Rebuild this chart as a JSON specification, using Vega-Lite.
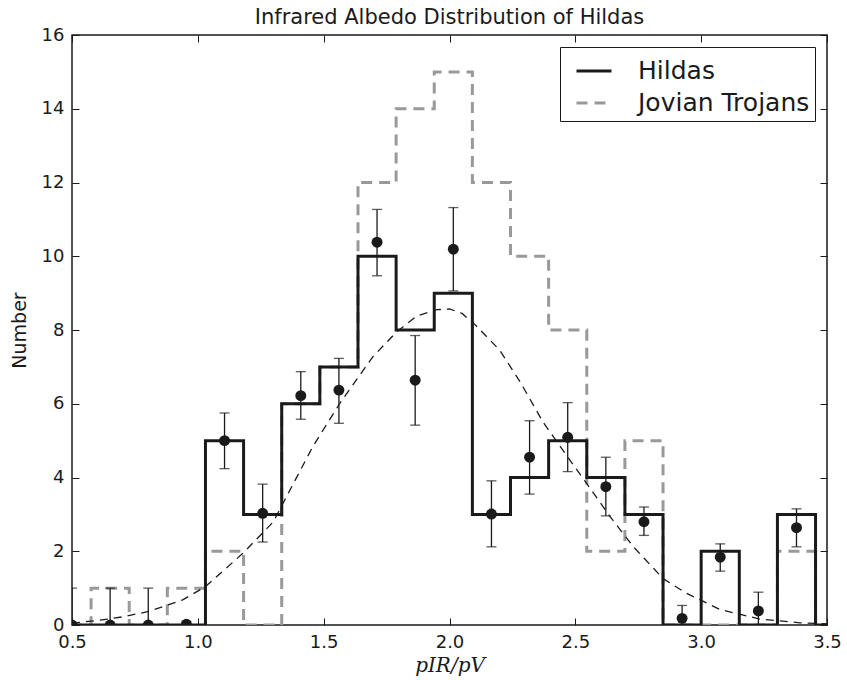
{
  "$schema": "https://vega.github.io/schema/vega-lite/v6.json",
  "width": 755,
  "height": 590,
  "autosize": {"type": "none"},
  "padding": {"left": 72, "top": 35, "right": 20, "bottom": 55},
  "background": "white",
  "title": {"text": "Infrared Albedo Distribution of Hildas", "font": "DejaVu Sans", "fontSize": 21, "fontWeight": "normal", "color": "#1a1a1a", "offset": 8, "dy": 10, "anchor": "middle"},
  "config": {
    "view": {"stroke": "#1a1a1a", "strokeWidth": 1.5},
    "axis": {"grid": false, "domain": false, "tickColor": "#1a1a1a", "tickWidth": 1, "labelFont": "DejaVu Sans", "labelFontSize": 18, "labelColor": "#1a1a1a", "titleFont": "DejaVu Sans", "titleFontSize": 19, "titleFontWeight": "normal", "titleColor": "#1a1a1a"},
    "legend": {"orient": "top-right", "offset": 12, "strokeColor": "#1a1a1a", "fillColor": "white", "padding": 5, "cornerRadius": 0, "labelFont": "DejaVu Sans", "labelFontSize": 25, "labelColor": "#1a1a1a", "symbolType": "stroke", "symbolStrokeWidth": 3, "symbolSize": 1225, "symbolOffset": 10, "rowPadding": 0, "labelOffset": 25, "labelLimit": 400}
  },
  "datasets": {
    "steps": [
      {"series": "Jovian Trojans", "x": 0.4242, "n": 0},
      {"series": "Jovian Trojans", "x": 0.5758, "n": 1},
      {"series": "Jovian Trojans", "x": 0.7273, "n": 0},
      {"series": "Jovian Trojans", "x": 0.8788, "n": 1},
      {"series": "Jovian Trojans", "x": 1.0303, "n": 2},
      {"series": "Jovian Trojans", "x": 1.1818, "n": 0},
      {"series": "Jovian Trojans", "x": 1.3333, "n": 6},
      {"series": "Jovian Trojans", "x": 1.4848, "n": 7},
      {"series": "Jovian Trojans", "x": 1.6364, "n": 12},
      {"series": "Jovian Trojans", "x": 1.7879, "n": 14},
      {"series": "Jovian Trojans", "x": 1.9394, "n": 15},
      {"series": "Jovian Trojans", "x": 2.0909, "n": 12},
      {"series": "Jovian Trojans", "x": 2.2424, "n": 10},
      {"series": "Jovian Trojans", "x": 2.3939, "n": 8},
      {"series": "Jovian Trojans", "x": 2.5455, "n": 2},
      {"series": "Jovian Trojans", "x": 2.6970, "n": 5},
      {"series": "Jovian Trojans", "x": 2.8485, "n": 0},
      {"series": "Jovian Trojans", "x": 3.0000, "n": 0},
      {"series": "Jovian Trojans", "x": 3.1515, "n": 0},
      {"series": "Jovian Trojans", "x": 3.3030, "n": 2},
      {"series": "Jovian Trojans", "x": 3.4545, "n": 0},
      {"series": "Jovian Trojans", "x": 3.6, "n": 0},
      {"series": "Hildas", "x": 0.4242, "n": 0},
      {"series": "Hildas", "x": 1.0303, "n": 5},
      {"series": "Hildas", "x": 1.1818, "n": 3},
      {"series": "Hildas", "x": 1.3333, "n": 6},
      {"series": "Hildas", "x": 1.4848, "n": 7},
      {"series": "Hildas", "x": 1.6364, "n": 10},
      {"series": "Hildas", "x": 1.7879, "n": 8},
      {"series": "Hildas", "x": 1.9394, "n": 9},
      {"series": "Hildas", "x": 2.0909, "n": 3},
      {"series": "Hildas", "x": 2.2424, "n": 4},
      {"series": "Hildas", "x": 2.3939, "n": 5},
      {"series": "Hildas", "x": 2.5455, "n": 4},
      {"series": "Hildas", "x": 2.6970, "n": 3},
      {"series": "Hildas", "x": 2.8485, "n": 0},
      {"series": "Hildas", "x": 3.0000, "n": 2},
      {"series": "Hildas", "x": 3.1515, "n": 0},
      {"series": "Hildas", "x": 3.3030, "n": 3},
      {"series": "Hildas", "x": 3.4545, "n": 0},
      {"series": "Hildas", "x": 3.6, "n": 0}
    ],
    "points": [
      {"x": 0.5, "y": 0, "lo": 0, "hi": 1},
      {"x": 0.6515, "y": 0, "lo": 0, "hi": 1},
      {"x": 0.8030, "y": 0, "lo": 0, "hi": 1},
      {"x": 0.9545, "y": 0.02, "lo": 0, "hi": 0.1},
      {"x": 1.1061, "y": 5.0, "lo": 4.24, "hi": 5.75},
      {"x": 1.2576, "y": 3.03, "lo": 2.25, "hi": 3.82},
      {"x": 1.4091, "y": 6.22, "lo": 5.58, "hi": 6.87},
      {"x": 1.5606, "y": 6.37, "lo": 5.47, "hi": 7.23},
      {"x": 1.7121, "y": 10.38, "lo": 9.47, "hi": 11.27},
      {"x": 1.8636, "y": 6.64, "lo": 5.42, "hi": 7.85},
      {"x": 2.0152, "y": 10.19, "lo": 9.06, "hi": 11.32},
      {"x": 2.1667, "y": 3.01, "lo": 2.12, "hi": 3.91},
      {"x": 2.3182, "y": 4.55, "lo": 3.55, "hi": 5.54},
      {"x": 2.4697, "y": 5.09, "lo": 4.16, "hi": 6.03},
      {"x": 2.6212, "y": 3.75, "lo": 2.96, "hi": 4.55},
      {"x": 2.7727, "y": 2.80, "lo": 2.43, "hi": 3.2},
      {"x": 2.9242, "y": 0.18, "lo": 0, "hi": 0.53},
      {"x": 3.0758, "y": 1.84, "lo": 1.46, "hi": 2.2},
      {"x": 3.2273, "y": 0.38, "lo": 0, "hi": 0.89},
      {"x": 3.3788, "y": 2.64, "lo": 2.12, "hi": 3.15}
    ],
    "fit": [
      {"x": 0.5, "y": 0.05},
      {"x": 0.6, "y": 0.12},
      {"x": 0.7, "y": 0.22},
      {"x": 0.8, "y": 0.36},
      {"x": 0.94, "y": 0.68},
      {"x": 1.03, "y": 1.04},
      {"x": 1.18, "y": 1.95},
      {"x": 1.3, "y": 2.8},
      {"x": 1.457, "y": 4.84},
      {"x": 1.565, "y": 6.02},
      {"x": 1.696, "y": 7.28},
      {"x": 1.79, "y": 7.95},
      {"x": 1.87, "y": 8.38},
      {"x": 1.95, "y": 8.55},
      {"x": 2.0, "y": 8.57},
      {"x": 2.05, "y": 8.45},
      {"x": 2.108, "y": 8.1},
      {"x": 2.2, "y": 7.45},
      {"x": 2.28, "y": 6.6},
      {"x": 2.372, "y": 5.5},
      {"x": 2.465, "y": 4.6},
      {"x": 2.545, "y": 3.84},
      {"x": 2.638, "y": 2.94},
      {"x": 2.731, "y": 2.12},
      {"x": 2.85, "y": 1.25},
      {"x": 2.942, "y": 0.86},
      {"x": 3.075, "y": 0.42},
      {"x": 3.233, "y": 0.16},
      {"x": 3.392, "y": 0.06},
      {"x": 3.5, "y": 0.03}
    ]
  },
  "layer": [
    {
      "data": {"name": "steps"},
      "transform": [{"filter": "datum.series === 'Jovian Trojans'"}],
      "mark": {"type": "line", "interpolate": "step-after", "strokeWidth": 3, "clip": true},
      "encoding": {
        "x": {"field": "x", "type": "quantitative", "scale": {"domain": [0.5, 3.5], "nice": false, "zero": false},
              "axis": {"orient": "bottom", "title": "pIR/pV", "titleFont": "DejaVu Serif", "titleFontStyle": "italic", "titleFontSize": 20, "titlePadding": 4, "values": [0.5, 1.0, 1.5, 2.0, 2.5, 3.0, 3.5], "format": ".1f", "tickSize": -7, "labelPadding": 15, "labelFlush": false, "labelOverlap": false}},
        "y": {"field": "n", "type": "quantitative", "scale": {"domain": [0, 16], "nice": false},
              "axis": {"orient": "left", "title": "Number", "titlePadding": 12, "values": [0, 2, 4, 6, 8, 10, 12, 14, 16], "tickSize": -7, "labelPadding": 15, "labelFlush": false, "labelOverlap": false}},
        "color": {"field": "series", "type": "nominal", "scale": {"domain": ["Hildas", "Jovian Trojans"], "range": ["#1a1a1a", "#999999"]}, "legend": {"title": null}},
        "strokeDash": {"field": "series", "type": "nominal", "scale": {"domain": ["Hildas", "Jovian Trojans"], "range": [[1, 0], [11, 7]]}, "legend": {"title": null}}
      }
    },
    {
      "data": {"name": "fit"},
      "mark": {"type": "line", "color": "#1a1a1a", "strokeWidth": 1.3, "strokeDash": [8, 6], "clip": true},
      "encoding": {
        "x": {"field": "x", "type": "quantitative", "axis": null},
        "y": {"field": "y", "type": "quantitative", "axis": null}
      }
    },
    {
      "data": {"name": "steps"},
      "transform": [{"filter": "datum.series === 'Hildas'"}],
      "mark": {"type": "line", "interpolate": "step-after", "strokeWidth": 3, "clip": true},
      "encoding": {
        "x": {"field": "x", "type": "quantitative",
              "axis": {"orient": "top", "title": null, "labels": false, "values": [0.5, 1.0, 1.5, 2.0, 2.5, 3.0, 3.5], "tickSize": -7}},
        "y": {"field": "n", "type": "quantitative",
              "axis": {"orient": "right", "title": null, "labels": false, "values": [0, 2, 4, 6, 8, 10, 12, 14, 16], "tickSize": -7}},
        "color": {"field": "series", "type": "nominal", "legend": {"title": null}},
        "strokeDash": {"field": "series", "type": "nominal", "legend": {"title": null}}
      }
    },
    {
      "data": {"name": "points"},
      "mark": {"type": "rule", "color": "#1a1a1a", "strokeWidth": 1.3, "clip": true},
      "encoding": {
        "x": {"field": "x", "type": "quantitative", "axis": null},
        "y": {"field": "lo", "type": "quantitative", "axis": null},
        "y2": {"field": "hi"}
      }
    },
    {
      "data": {"name": "points"},
      "mark": {"type": "tick", "orient": "horizontal", "color": "#1a1a1a", "size": 10, "thickness": 1.3, "clip": true},
      "encoding": {
        "x": {"field": "x", "type": "quantitative", "axis": null},
        "y": {"field": "hi", "type": "quantitative", "axis": null}
      }
    },
    {
      "data": {"name": "points"},
      "mark": {"type": "tick", "orient": "horizontal", "color": "#1a1a1a", "size": 10, "thickness": 1.3, "clip": true},
      "encoding": {
        "x": {"field": "x", "type": "quantitative", "axis": null},
        "y": {"field": "lo", "type": "quantitative", "axis": null}
      }
    },
    {
      "data": {"name": "points"},
      "mark": {"type": "circle", "color": "#1a1a1a", "opacity": 1, "size": 120, "clip": true},
      "encoding": {
        "x": {"field": "x", "type": "quantitative", "axis": null},
        "y": {"field": "y", "type": "quantitative", "axis": null}
      }
    }
  ],
  "resolve": {"axis": {"x": "independent", "y": "independent"}}
}
